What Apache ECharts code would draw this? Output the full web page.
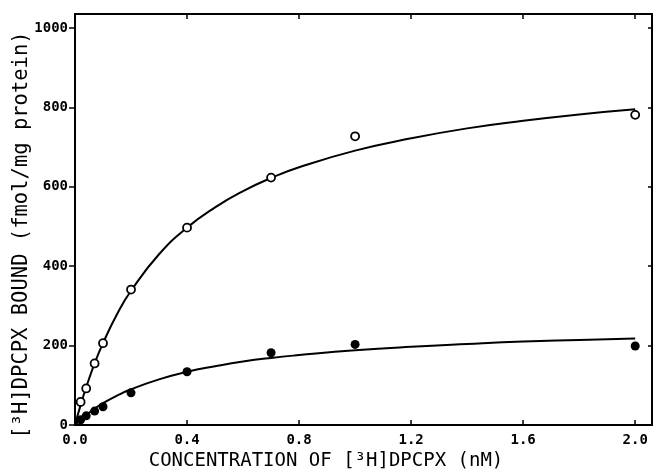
<!DOCTYPE html>
<html>
<head>
<meta charset="utf-8">
<script src="https://cdn.jsdelivr.net/npm/echarts@6/dist/echarts.min.js"></script>
<style>
html,body{margin:0;padding:0;background:#fff;}
#chart{width:654px;height:470px;}
</style>
</head>
<body>
<div id="chart"></div>
<script>
// Tick labels
const xTicks = [0, 0.4, 0.8, 1.2, 1.6, 2.0];
const yTicks = [0, 200, 400, 600, 800, 1000];

// Measured points: open circles (upper) and filled circles (lower)
const openX = [0.02, 0.04, 0.07, 0.1, 0.2, 0.4, 0.7, 1.0, 2.0];
const openY = [58, 92, 155, 206, 341, 497, 623, 727, 781];
const filledX = [0.02, 0.04, 0.07, 0.1, 0.2, 0.4, 0.7, 1.0, 2.0];
const filledY = [13, 23, 35, 46, 81, 134, 182, 203, 199];

// Fitted curves
const curveX = [0, 0.02, 0.04, 0.07, 0.1, 0.15, 0.2, 0.3, 0.4, 0.5, 0.6, 0.7, 0.8, 1.0, 1.2, 1.4, 1.6, 1.8, 2.0];
const upperCurveY = [0, 50, 95, 155, 206, 279, 338, 430, 497, 548, 589, 622, 649, 691, 722, 747, 766, 782, 795];
const lowerCurveY = [0, 13, 25, 41, 55, 74, 90, 115, 134, 148, 160, 169, 176, 188, 197, 204, 210, 214, 218];

const zip = (xs, ys) => xs.map((x, i) => [x, ys[i]]);

const monoFont = '"DejaVu Sans Mono", "Liberation Mono", monospace';
const chart = echarts.init(document.getElementById('chart'), null, {renderer: 'canvas'});

const axisLineStyle = {color: '#000', width: 2};

chart.setOption({
  backgroundColor: '#fff',
  animation: false,
  grid: {left: 75, right: 2, top: 14, bottom: 45, containLabel: false},
  xAxis: [{
    type: 'value', min: 0, max: 2.06, position: 'bottom',
    axisLine: {show: true, onZero: false, lineStyle: axisLineStyle},
    axisTick: {show: true, inside: true, length: 5, customValues: xTicks, lineStyle: {color: '#000', width: 1.5}},
    axisLabel: {show: true, customValues: xTicks, formatter: v => v.toFixed(1), color: '#000',
      fontFamily: monoFont, fontWeight: 'bold', fontSize: 14, margin: 8},
    splitLine: {show: false}
  }, {
    type: 'value', min: 0, max: 2.06, position: 'top',
    axisLine: {show: true, onZero: false, lineStyle: axisLineStyle},
    axisTick: {show: true, inside: true, length: 5, customValues: xTicks, lineStyle: {color: '#000', width: 1.5}},
    axisLabel: {show: false},
    splitLine: {show: false}
  }],
  yAxis: [{
    type: 'value', min: 0, max: 1035, position: 'left',
    axisLine: {show: true, onZero: false, lineStyle: axisLineStyle},
    axisTick: {show: true, inside: false, length: 6, customValues: yTicks, lineStyle: {color: '#000', width: 1.5}},
    axisLabel: {show: true, customValues: yTicks, formatter: v => String(Math.round(v)), color: '#000',
      fontFamily: monoFont, fontWeight: 'bold', fontSize: 14, margin: 7},
    splitLine: {show: false}
  }, {
    type: 'value', min: 0, max: 1035, position: 'right',
    axisLine: {show: true, onZero: false, lineStyle: axisLineStyle},
    axisTick: {show: true, inside: true, length: 4, customValues: yTicks, lineStyle: {color: '#000', width: 1.5}},
    axisLabel: {show: false},
    splitLine: {show: false}
  }],
  graphic: [{
    type: 'text', x: 326, y: 461,
    style: {text: 'CONCENTRATION OF [³H]DPCPX (nM)', fill: '#000', font: '19px ' + monoFont,
      align: 'center', verticalAlign: 'middle'}
  }, {
    type: 'text', x: 22, y: 235, rotation: Math.PI / 2,
    style: {text: '[³H]DPCPX BOUND (fmol/mg protein)', fill: '#000', font: '20.5px ' + monoFont,
      align: 'center', verticalAlign: 'middle'}
  }],
  series: [{
    type: 'line', data: zip(curveX, upperCurveY), smooth: true, showSymbol: false, symbol: 'none',
    lineStyle: {color: '#000', width: 2}, z: 2
  }, {
    type: 'line', data: zip(curveX, lowerCurveY), smooth: true, showSymbol: false, symbol: 'none',
    lineStyle: {color: '#000', width: 2}, z: 2
  }, {
    type: 'scatter', data: zip(openX, openY), symbol: 'circle', symbolSize: 8,
    itemStyle: {color: '#fff', borderColor: '#000', borderWidth: 1.8, opacity: 1}, z: 3
  }, {
    type: 'scatter', data: zip(filledX, filledY), symbol: 'circle', symbolSize: 9,
    itemStyle: {color: '#000', opacity: 1}, z: 3
  }]
});
</script>
</body>
</html>
